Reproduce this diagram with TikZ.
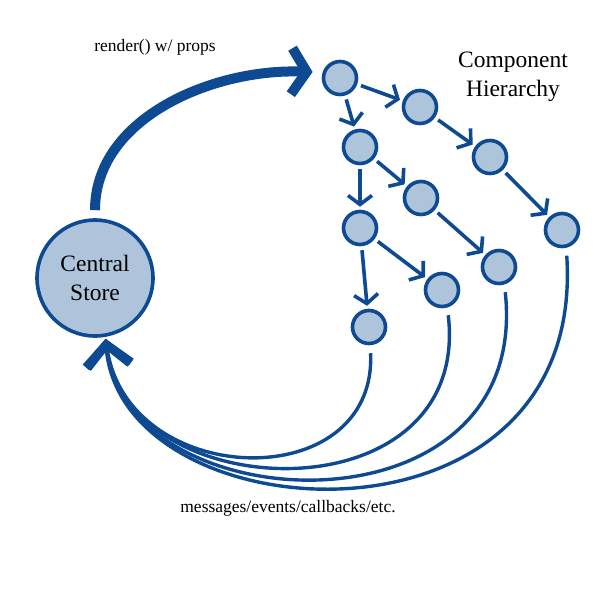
\documentclass[tikz,border=0pt]{standalone}
\usepackage{fontspec}
\setmainfont{Liberation Serif}
\usepackage{xcolor}
\usetikzlibrary{arrows.meta}
\definecolor{storeblue}{RGB}{14,74,146}
\definecolor{compfill}{RGB}{173,196,218}

\begin{document}
\begin{tikzpicture}[
  x=1pt, y=1pt,
  comp/.style={
    circle,
    draw=storeblue,
    fill=compfill,
    line width=3.6pt,
    minimum size=33pt,
    inner sep=0pt
  },
  child/.style={
    draw=storeblue,
    line width=3.6pt,
    -{Straight Barb[length=9pt,width=24pt]},
    shorten <=4pt,
    shorten >=3pt
  },
  back/.style={
    draw=storeblue,
    line width=3.4pt,
    -{Straight Barb[line width=8pt,length=21pt,width=44pt]},
    shorten >=2pt
  },
  label/.style={font=\fontsize{17.5}{21}\selectfont, align=center},
  biglabel/.style={font=\fontsize{23.5}{29.5}\selectfont, align=center}
]

\useasboundingbox (0,0) rectangle (600,-600);

\node[circle, draw=storeblue, fill=compfill, line width=3.6pt, minimum size=116pt,
  biglabel] (store) at (95,-278) {Central\\Store};

\node[comp] (c1) at (340,-78) {};
\node[comp] (c2) at (420,-107) {};
\node[comp] (c3) at (360,-147) {};
\node[comp] (c4) at (490,-157) {};
\node[comp] (c5) at (421,-198) {};
\node[comp] (c6) at (360,-228) {};
\node[comp] (c7) at (562,-230) {};
\node[comp] (c8) at (499,-267) {};
\node[comp] (c9) at (442,-290) {};
\node[comp] (c10) at (369,-327) {};

\draw[child] (c1) -- (c2);
\draw[child] (c1) -- (c3);
\draw[child] (c2) -- (c4);
\draw[child] (c4) -- (c7);
\draw[child] (c3) -- (c5);
\draw[child] (c3) -- (c6);
\draw[child] (c5) -- (c8);
\draw[child] (c6) -- (c9);
\draw[child] (c6) -- (c10);

\draw[draw=storeblue, line width=10pt,
  -{Straight Barb[length=15pt,width=46pt]}, shorten <=8pt, shorten >=10pt]
  (store.north) .. controls +(0,100) and +(-110,4) .. (c1.162);

\draw[back] (c10.-85) ++(0,-8) .. controls (377,-497) and (128,-490) .. (store.-80);
\draw[back] (c9.-70) ++(0,-8) .. controls (472,-519) and (126,-509) .. (store.-80);
\draw[back] (c8.-70) ++(0,-8) .. controls (532,-542) and (124,-524) .. (store.-80);
\draw[back] (c7.-75) ++(0,-8) .. controls (587,-564) and (122,-537) .. (store.-80);

\node[label] (render) at (155,-47) {render() w/ props};
\node[biglabel] (hier) at (513,-77) {Component\\Hierarchy};
\node[label] (msgs) at (288,-508) {messages/events/callbacks/etc.};

\end{tikzpicture}
\end{document}
